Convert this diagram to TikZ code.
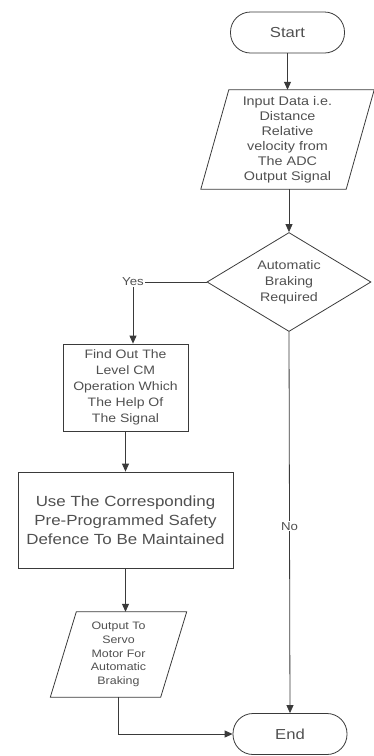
\documentclass[tikz,border=0pt]{standalone}
\usepackage{fontspec}
\setmainfont{Liberation Sans}[FakeStretch=1.15]
\usepackage{tikz}
\usetikzlibrary{shapes.geometric,arrows.meta}

\definecolor{linegray}{HTML}{3A3A3A}
\definecolor{textgray}{HTML}{505050}

\tikzset{
  linea/.style={draw=linegray, line width=0.8pt},
  flecha/.style={linea, -{Triangle[length=8pt,width=7pt]}},
  terminal/.style={linea, rectangle, rounded corners=20pt, minimum width=114pt,
    minimum height=41pt, text=textgray, font=\fontsize{14.5}{17}\selectfont},
  datos/.style={rectangle, inner sep=0pt, align=center, text=textgray},
  proceso/.style={linea, rectangle, inner sep=0pt, align=center, text=textgray},
  decision/.style={linea, diamond, aspect=1.66, inner sep=0pt, align=center,
    minimum width=164pt, minimum height=99pt, text=textgray,
    font=\fontsize{12.4}{16}\selectfont},
  etiqueta/.style={text=textgray, inner sep=1pt, font=\fontsize{11.5}{13}\selectfont}
}

\begin{document}
\begin{tikzpicture}[x=1pt,y=-1pt]
  \useasboundingbox (0,0) rectangle (374,756);

  % Nodos del diagrama
  \node[terminal] (inicio) at (287.5,32.5) {Start};
  \node[datos, minimum width=145pt, minimum height=99pt,
    font=\fontsize{12.5}{15}\selectfont] (entrada) at (287.5,139.5)
    {Input Data i.e.\\Distance\\Relative\\velocity from\\The ADC\\Output Signal};
  \node[decision] (decide) at (289,282) {Automatic\\Braking\\Required};
  \node[etiqueta] (si) at (133,282) {Yes};
  \node[proceso, minimum width=125pt, minimum height=87pt,
    font=\fontsize{12.2}{16}\selectfont] (nivel) at (125.5,387.5)
    {Find Out The\\Level CM\\Operation Which\\The Help Of\\The Signal};
  \node[proceso, minimum width=215pt, minimum height=96pt,
    font=\fontsize{14.7}{19}\selectfont] (defensa) at (125.5,520)
    {Use The Corresponding\\Pre-Programmed Safety\\Defence To Be Maintained};
  \node[datos, minimum width=110pt, minimum height=85pt,
    font=\fontsize{10.8}{13.7}\selectfont] (salida) at (118.5,654.5)
    {Output To\\Servo\\Motor For\\Automatic\\Braking};
  \node[terminal] (fin) at (290,734) {End};

  % Paralelogramos de entrada y salida
  \draw[linea] ([xshift=14pt]entrada.north west) -- ([xshift=14pt]entrada.north east)
    -- ([xshift=-14pt]entrada.south east) -- ([xshift=-14pt]entrada.south west) -- cycle;
  \draw[linea] ([xshift=13pt]salida.north west) -- ([xshift=13pt]salida.north east)
    -- ([xshift=-13pt]salida.south east) -- ([xshift=-13pt]salida.south west) -- cycle;

  % Conectores
  \draw[flecha] (inicio) -- (entrada);
  \draw[flecha] (entrada.south -| decide.north) -- (decide);
  \draw[linea] (decide.west) -- (si.east);
  \draw[flecha] (si.south) -- (si.south |- nivel.north);
  \draw[flecha] (nivel) -- (defensa);
  \draw[flecha] (defensa) -- (defensa.south |- salida.north);
  \draw[flecha] (decide.south) -- (fin.north)
    node[etiqueta, fill=white, pos=0.51] (no) {No};
  \draw[flecha] (salida.south) |- (fin.west);
\end{tikzpicture}
\end{document}
